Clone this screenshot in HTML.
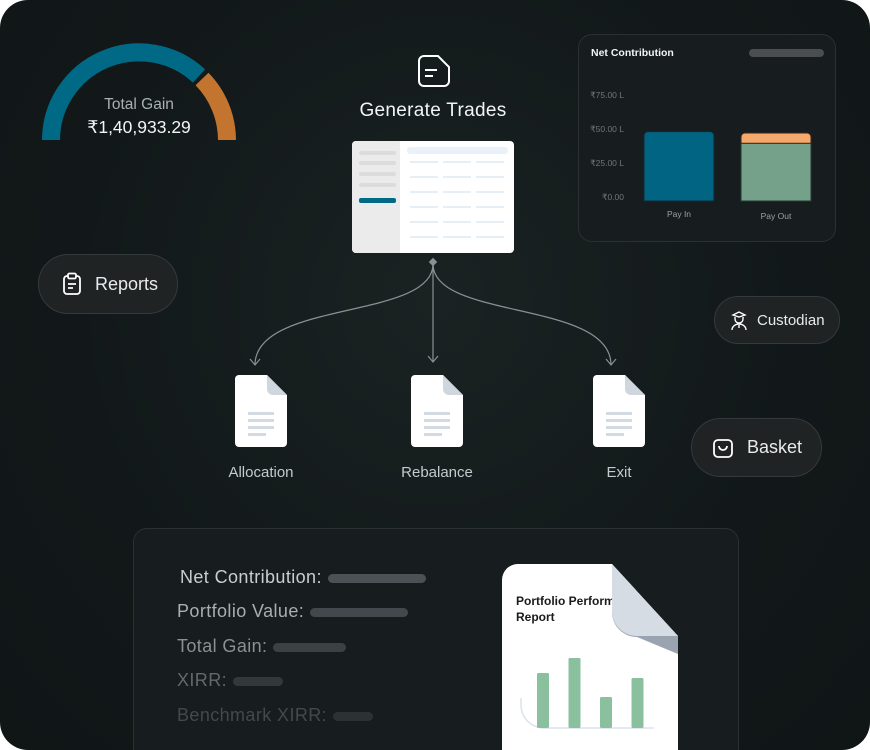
<!DOCTYPE html>
<html><head><meta charset="utf-8"><style>
html,body{margin:0;padding:0;background:#fff;}
body{width:870px;height:750px;position:relative;overflow:hidden;font-family:"Liberation Sans",sans-serif;}
#bg{position:absolute;left:0;top:0;width:870px;height:750px;border-radius:28px;background:radial-gradient(ellipse at 50% 40%,#1a2222 0%,#121819 60%,#101516 100%);overflow:hidden;}
.abs{position:absolute;}
.pill{position:absolute;background:#1f2324;border:1px solid #34393b;border-radius:40px;color:#e8eaec;display:flex;align-items:center;box-sizing:border-box;}
.lbl{position:absolute;font-size:18px;letter-spacing:0.4px;white-space:nowrap;}
.bar{display:inline-block;height:9px;border-radius:5px;background:#4a4f53;vertical-align:middle;margin-left:6px;}
</style></head><body>
<div id="bg">

<svg class="abs" style="left:0;top:0" width="870" height="750">
  <path d="M51 140 A88 88 0 0 1 199 76" fill="none" stroke="#006a86" stroke-width="18"/>
  <path d="M202 79 A88 88 0 0 1 227 140" fill="none" stroke="#c3742e" stroke-width="18"/>
  <text x="139" y="109" text-anchor="middle" font-size="15.5" fill="#a9b0b6" font-family="Liberation Sans">Total Gain</text>
  <text x="139" y="133" text-anchor="middle" font-size="17.5" fill="#f2f4f5" font-family="Liberation Sans">₹1,40,933.29</text>

  <g fill="none" stroke="#fff" stroke-width="2">
    <path d="M424 56 h14 l11 11 v14 a5 5 0 0 1 -5 5 h-20 a5 5 0 0 1 -5 -5 v-20 a5 5 0 0 1 5 -5z"/>
    <path d="M425 70 h12 M425 76 h8"/>
  </g>
  <text x="433" y="116" text-anchor="middle" font-size="19" letter-spacing="0.3" fill="#f2f4f5" font-family="Liberation Sans">Generate Trades</text>

  <g>
    <rect x="352" y="141" width="162" height="112" rx="4" fill="#ffffff"/>
    <path d="M356 141 h44 v112 h-44 a4 4 0 0 1 -4 -4 v-104 a4 4 0 0 1 4 -4z" fill="#ebebeb"/>
    <rect x="359" y="151" width="37" height="4" rx="2" fill="#dcdcdc"/>
    <rect x="359" y="161" width="37" height="4" rx="2" fill="#dcdcdc"/>
    <rect x="359" y="172" width="37" height="4" rx="2" fill="#dcdcdc"/>
    <rect x="359" y="183" width="37" height="4" rx="2" fill="#dcdcdc"/>
    <rect x="359" y="198" width="37" height="5" rx="2" fill="#006a86"/>
    <rect x="407" y="147" width="101" height="7" rx="3" fill="#eaf1f8"/>
    <g fill="#e6eef6">
      <rect x="410" y="161" width="28" height="2"/><rect x="443" y="161" width="28" height="2"/><rect x="476" y="161" width="28" height="2"/>
      <rect x="410" y="176" width="28" height="2"/><rect x="443" y="176" width="28" height="2"/><rect x="476" y="176" width="28" height="2"/>
      <rect x="410" y="191" width="28" height="2"/><rect x="443" y="191" width="28" height="2"/><rect x="476" y="191" width="28" height="2"/>
      <rect x="410" y="206" width="28" height="2"/><rect x="443" y="206" width="28" height="2"/><rect x="476" y="206" width="28" height="2"/>
      <rect x="410" y="221" width="28" height="2"/><rect x="443" y="221" width="28" height="2"/><rect x="476" y="221" width="28" height="2"/>
      <rect x="410" y="236" width="28" height="2"/><rect x="443" y="236" width="28" height="2"/><rect x="476" y="236" width="28" height="2"/>
    </g>
  </g>

  <g fill="none" stroke="#8a9194" stroke-width="1.2">
    <path d="M433 262 v100"/>
    <path d="M433 264 C433 320 255 300 255 365"/>
    <path d="M433 264 C433 320 611 300 611 365"/>
    <path d="M428 356 l5 6 l5 -6 M250 359 l5 6 l5 -6 M606 359 l5 6 l5 -6"/>
  </g>
  <rect x="430" y="259" width="6" height="6" fill="#8a9194" transform="rotate(45 433 262)"/>

  <g>
    <g transform="translate(235 375)">
      <path d="M4 0 h28 l20 20 v48 a4 4 0 0 1 -4 4 h-44 a4 4 0 0 1 -4 -4 v-64 a4 4 0 0 1 4 -4z" fill="#fff"/>
      <path d="M32 0 l20 20 h-14 a6 6 0 0 1 -6 -6z" fill="#cfd6de"/>
      <rect x="13" y="37" width="26" height="3" fill="#d3dae2"/><rect x="13" y="44" width="26" height="3" fill="#d3dae2"/><rect x="13" y="51" width="26" height="3" fill="#d3dae2"/><rect x="13" y="58" width="18" height="3" fill="#d3dae2"/>
    </g>
    <g transform="translate(411 375)">
      <path d="M4 0 h28 l20 20 v48 a4 4 0 0 1 -4 4 h-44 a4 4 0 0 1 -4 -4 v-64 a4 4 0 0 1 4 -4z" fill="#fff"/>
      <path d="M32 0 l20 20 h-14 a6 6 0 0 1 -6 -6z" fill="#cfd6de"/>
      <rect x="13" y="37" width="26" height="3" fill="#d3dae2"/><rect x="13" y="44" width="26" height="3" fill="#d3dae2"/><rect x="13" y="51" width="26" height="3" fill="#d3dae2"/><rect x="13" y="58" width="18" height="3" fill="#d3dae2"/>
    </g>
    <g transform="translate(593 375)">
      <path d="M4 0 h28 l20 20 v48 a4 4 0 0 1 -4 4 h-44 a4 4 0 0 1 -4 -4 v-64 a4 4 0 0 1 4 -4z" fill="#fff"/>
      <path d="M32 0 l20 20 h-14 a6 6 0 0 1 -6 -6z" fill="#cfd6de"/>
      <rect x="13" y="37" width="26" height="3" fill="#d3dae2"/><rect x="13" y="44" width="26" height="3" fill="#d3dae2"/><rect x="13" y="51" width="26" height="3" fill="#d3dae2"/><rect x="13" y="58" width="18" height="3" fill="#d3dae2"/>
    </g>
  </g>
  <text x="261" y="477" text-anchor="middle" font-size="15" fill="#c5cacd" font-family="Liberation Sans">Allocation</text>
  <text x="437" y="477" text-anchor="middle" font-size="15" fill="#c5cacd" font-family="Liberation Sans">Rebalance</text>
  <text x="619" y="477" text-anchor="middle" font-size="15" fill="#c5cacd" font-family="Liberation Sans">Exit</text>
</svg>

<div class="abs" style="left:578px;top:34px;width:258px;height:208px;box-sizing:border-box;border:1px solid #2b3033;border-radius:14px;background:#171c1e;"></div>
<svg class="abs" style="left:578px;top:34px" width="258" height="208" id="nc">
  <text x="13" y="22" font-size="10.5" font-weight="bold" fill="#f2f4f5" font-family="Liberation Sans">Net Contribution</text>
  <rect x="171" y="15" width="75" height="8" rx="4" fill="#4a4e52"/>
</svg>

<div class="pill" style="left:38px;top:254px;width:140px;height:60px;padding-left:20px;font-size:18px;">
  <svg width="26" height="26" viewBox="0 0 26 26" style="margin-right:10px" fill="none" stroke="#fff" stroke-width="1.8"><rect x="5" y="5" width="16" height="18" rx="3"/><rect x="9" y="2.5" width="8" height="5" rx="1.5" fill="#1f2324"/><path d="M9 13h8M9 17h5"/></svg>Reports</div>
<div class="pill" style="left:714px;top:296px;width:126px;height:48px;padding-left:14px;font-size:15px;">
  <svg width="20" height="22" viewBox="0 0 20 22" style="margin-right:8px" fill="none" stroke="#fff" stroke-width="1.4"><path d="M4 6 l6 -3 l6 3 l-6 2z"/><path d="M6 8 v2 a4 4 0 0 0 8 0 v-2"/><path d="M3 21 a7 6 0 0 1 14 0"/><path d="M10 16 v3"/></svg>Custodian</div>
<div class="pill" style="left:691px;top:418px;width:131px;height:59px;padding-left:19px;font-size:18px;">
  <svg width="24" height="24" viewBox="0 0 24 24" style="margin-right:12px" fill="none" stroke="#fff" stroke-width="1.8"><rect x="3" y="4" width="18" height="17" rx="4"/><path d="M8 10 a4 4 0 0 0 8 0"/></svg>Basket</div>

<div class="abs" style="left:133px;top:528px;width:606px;height:240px;box-sizing:border-box;border:1px solid #2b3033;border-radius:14px;background:#171c1e;">
  <div class="lbl" style="left:46px;top:38px;color:#c9ced2">Net Contribution:<span class="bar" style="width:98px;background:#4c5155"></span></div>
  <div class="lbl" style="left:43px;top:72px;color:#a8aeb3">Portfolio Value:<span class="bar" style="width:98px;background:#43484c"></span></div>
  <div class="lbl" style="left:43px;top:107px;color:#8a9095">Total Gain:<span class="bar" style="width:73px;background:#3c4144"></span></div>
  <div class="lbl" style="left:43px;top:141px;color:#62686c">XIRR:<span class="bar" style="width:50px;background:#33383b"></span></div>
  <div class="lbl" style="left:43px;top:176px;color:#43494c">Benchmark XIRR:<span class="bar" style="width:40px;background:#2c3134"></span></div>
</div>

<svg class="abs" style="left:502px;top:564px" width="178" height="190" id="rep">
  <path d="M16 0 H110 L176 72 V190 H0 V16 A16 16 0 0 1 16 0z" fill="#fff"/>
  <text x="14" y="41" font-size="12" font-weight="bold" fill="#1a1a1a" font-family="Liberation Sans">Portfolio Perform</text>
  <text x="14" y="57" font-size="12" font-weight="bold" fill="#1a1a1a" font-family="Liberation Sans">Report</text>
  <path d="M110 0 L176 72 V90 L135 73 A25 25 0 0 1 110 48z" fill="#9aa3b0"/>
  <path d="M110 0 L176 72 H135 A25 25 0 0 1 110 48z" fill="#d5dce4"/>
  <path d="M19 134 V141 A23 23 0 0 0 42 164 H152" fill="none" stroke="#dce3ea" stroke-width="1.5"/>
</svg>
</div>

<script>
const ncCategories = ["Pay In", "Pay Out"];
const ncTicks = [0, 25, 50, 75];
const ncTickLabels = ["₹0.00", "₹25.00 L", "₹50.00 L", "₹75.00 L"];
const ncPayInValues = [51, 0];
const ncGreenValues = [0, 42.5];
const ncOrangeValues = [0, 7.5];
const repValues = [55, 70, 31, 50];

const NS = "http://www.w3.org/2000/svg";
function mk(tag, attrs, parent){const e=document.createElementNS(NS,tag);for(const k in attrs)e.setAttribute(k,attrs[k]);parent.appendChild(e);return e;}

(function(){
  const svg=document.getElementById('nc');
  const y0=167, perUnit=34/25;
  const y=v=>y0-v*perUnit;
  const xc=i=>101+i*97;
  ncTicks.forEach((t,i)=>{
    const tx=mk('text',{x:46,y:y(t)-1,'text-anchor':'end','font-size':8.5,fill:'#6f777c','font-family':'Liberation Sans'},svg);
    
    
    tx.textContent=ncTickLabels[i];
  });
  ncCategories.forEach((c,i)=>{
    const bw=70, x=xc(i)-bw/2;
    if(ncPayInValues[i]>0){
      const r=mk('path',{d:`M${x} ${y0} V${y(ncPayInValues[i])+4} a4 4 0 0 1 4 -4 H${x+bw-4} a4 4 0 0 1 4 4 V${y0}z`,fill:'#006482',stroke:'#0f2a33','stroke-width':1},svg);
      
      
    }
    if(ncGreenValues[i]>0){
      const g=mk('rect',{x:x,y:y(ncGreenValues[i]),width:bw,height:ncGreenValues[i]*perUnit,fill:'#75a08a',stroke:'#243a30','stroke-width':1},svg);
      
      
      const top=y(ncGreenValues[i]+ncOrangeValues[i]);
      const o=mk('path',{d:`M${x} ${y(ncGreenValues[i])} V${top+4} a4 4 0 0 1 4 -4 H${x+bw-4} a4 4 0 0 1 4 4 V${y(ncGreenValues[i])}z`,fill:'#f6a96a',stroke:'#3a2a1a','stroke-width':1},svg);
      
      
    }
    const l=mk('text',{x:xc(i),y:y0+16+i*2,'text-anchor':'middle','font-size':8.5,fill:'#9aa1a6','font-family':'Liberation Sans'},svg);
    
    
    l.textContent=c;
  });
})();

(function(){
  const svg=document.getElementById('rep');
  const base=164, scale=1;
  repValues.forEach((v,i)=>{
    const r=mk('rect',{x:35+i*31.5,y:base-v*scale,width:12,height:v*scale,rx:1.5,fill:'#8bc09f'},svg);
    
    
  });
})();
</script>
</body></html>
